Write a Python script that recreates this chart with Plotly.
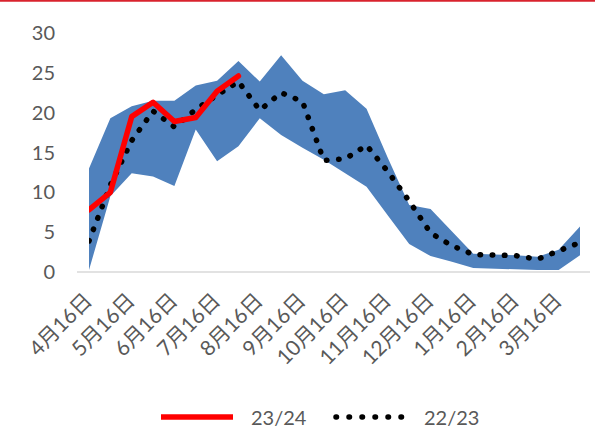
import plotly.graph_objects as go

# Semi-monthly observation slots (24 per season, 16th and 1st of each month)
slots = list(range(24))

# Historical range band (min / max of previous seasons)
band_max = [13.0, 19.3, 20.8, 21.5, 21.5, 23.4, 24.0, 26.5, 23.9, 27.2, 24.0, 22.3,
            22.8, 20.5, 14.3, 8.4, 7.9, 5.1, 2.3, 2.2, 2.1, 1.9, 2.8, 5.7]
band_min = [0.25, 9.5, 12.4, 12.0, 10.8, 17.9, 13.9, 15.8, 19.3, 17.2, 15.6, 14.1,
            12.4, 10.7, 7.1, 3.5, 2.0, 1.3, 0.5, 0.4, 0.35, 0.25, 0.25, 2.1]

# Season series
s_2223 = [3.9, 10.9, 16.5, 20.2, 18.2, 20.4, 22.2, 23.9, 20.3, 22.5, 21.4, 14.0,
          14.2, 15.9, 12.6, 8.9, 4.9, 3.3, 2.2, 2.1, 2.05, 1.6, 2.6, 3.7]
s_2324 = [7.8, 10.0, 19.5, 21.3, 18.9, 19.4, 22.7, 24.6]

# Month labels on the category axis (one per month, on the 16th slots)
month_labels = ["4月16日", "5月16日", "6月16日", "7月16日", "8月16日", "9月16日",
                "10月16日", "11月16日", "12月16日", "1月16日", "2月16日", "3月16日"]
y_ticks = [0, 5, 10, 15, 20, 25, 30]

GRAY = "#595959"
FONT = "Lato, Noto Sans CJK SC, sans-serif"
DOT_DASH = "0.5px,11.7px"

fig = go.Figure()

fig.add_trace(go.Scatter(x=slots, y=band_min, mode="lines",
                         line=dict(width=0, color="#4F81BD"),
                         showlegend=False, hoverinfo="skip"))
fig.add_trace(go.Scatter(x=slots, y=band_max, mode="lines",
                         line=dict(width=0, color="#4F81BD"),
                         fill="tonexty", fillcolor="#4F81BD",
                         showlegend=False, hoverinfo="skip"))
fig.add_trace(go.Scatter(x=slots, y=s_2223, mode="lines", name="22/23",
                         line=dict(color="#000000", width=5.5, dash=DOT_DASH),
                         showlegend=False))
fig.add_trace(go.Scatter(x=slots[:len(s_2324)], y=s_2324, mode="lines", name="23/24",
                         line=dict(color="#FF0000", width=5.5),
                         showlegend=False))

# Legend drawn below the plot area (pixel positions converted to paper units)
L, T, W, H = 89, 33, 491, 239


def px(x):
    return (x - L) / W


def py(y):
    return (T + H - y) / H


shapes = [
    # category axis line, running a little past the plot area on both sides
    dict(type="line", xref="paper", yref="paper", layer="below",
         x0=px(77), x1=px(590), y0=0, y1=0,
         line=dict(color="#D9D9D9", width=1.5)),
    dict(type="line", xref="paper", yref="paper",
         x0=px(161), x1=px(233), y0=py(417), y1=py(417),
         line=dict(color="#FF0000", width=5.5)),
    dict(type="line", xref="paper", yref="paper",
         x0=px(336), x1=px(402), y0=py(417), y1=py(417),
         line=dict(color="#000000", width=5.5, dash="0.5px,12.5px")),
    # thin red rule along the top edge of the page
    dict(type="line", xref="paper", yref="paper",
         x0=px(0), x1=px(595), y0=py(0.8), y1=py(0.8),
         line=dict(color="#D9232E", width=2)),
]
annotations = [
    dict(text="23/24", xref="paper", yref="paper", x=px(249), y=py(417),
         xanchor="left", yanchor="middle", showarrow=False,
         font=dict(family=FONT, size=20, color=GRAY)),
    dict(text="22/23", xref="paper", yref="paper", x=px(422), y=py(417),
         xanchor="left", yanchor="middle", showarrow=False,
         font=dict(family=FONT, size=20, color=GRAY)),
]

fig.update_layout(
    width=595, height=430,
    margin=dict(l=L, r=595 - L - W, t=T, b=430 - T - H, pad=0),
    paper_bgcolor="white", plot_bgcolor="white",
    font=dict(family=FONT, color=GRAY),
    showlegend=False,
    shapes=shapes, annotations=annotations,
    xaxis=dict(range=[0, 23], showgrid=False, zeroline=False, showline=False,
               tickmode="array",
               tickvals=slots[::2],
               ticktext=month_labels, tickangle=-45,
               tickfont=dict(family=FONT, size=21, color=GRAY),
               ticks="", ticklabelstandoff=11, ticklabelshift=-3),
    yaxis=dict(range=[0, 30], showgrid=False, zeroline=False, showline=False,
               tickmode="array", tickvals=y_ticks,
               tickfont=dict(family=FONT, size=20, color=GRAY),
               ticks="", ticklabelstandoff=33),
)

# Round line caps: short dashes become round dots, solid lines get rounded ends
round_caps = """
var gd = document.getElementById('{plot_id}');
function roundCaps() {
  gd.querySelectorAll('path').forEach(function (p) {
    var d = p.style.strokeDasharray;
    if ((d && d !== 'none') || p.classList.contains('js-line')) {
      p.style.strokeLinecap = 'round';
      p.style.strokeLinejoin = 'round';
    }
  });
}
roundCaps();
gd.on('plotly_afterplot', roundCaps);
"""

fig.write_html("out.html", post_script=round_caps)
